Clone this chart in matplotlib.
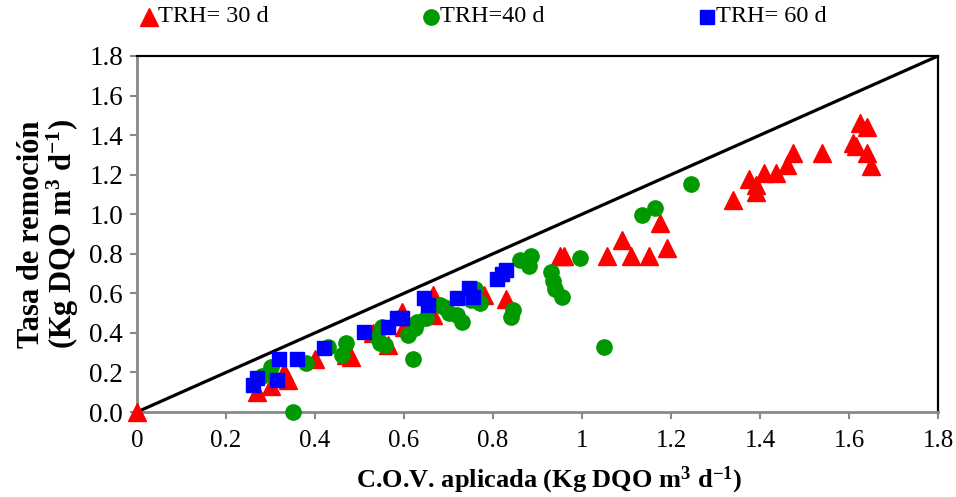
import matplotlib
matplotlib.use("Agg")
import matplotlib.pyplot as plt
from matplotlib.lines import Line2D

plt.rcParams['font.family'] = ['Liberation Serif', 'DejaVu Serif']
plt.rcParams['mathtext.fontset'] = 'custom'
plt.rcParams['mathtext.rm'] = 'Liberation Serif'
plt.rcParams['mathtext.bf'] = 'Liberation Serif:bold'
plt.rcParams['mathtext.it'] = 'Liberation Serif:italic'

# TRH = 30 d (red triangles)
x30 = [0.0, 0.27, 0.30, 0.33, 0.34, 0.40, 0.47, 0.48, 0.53, 0.565, 0.595, 0.60,
       0.665, 0.665, 0.78, 0.83, 0.95, 0.96, 1.056, 1.09, 1.11, 1.15, 1.175, 1.19,
       1.34, 1.375, 1.39, 1.39, 1.41, 1.435, 1.46, 1.475, 1.54, 1.61, 1.615,
       1.625, 1.64, 1.64, 1.65]
y30 = [0.0, 0.10, 0.13, 0.20, 0.16, 0.27, 0.29, 0.28, 0.40, 0.34, 0.505, 0.43,
       0.59, 0.49, 0.59, 0.57, 0.79, 0.79, 0.79, 0.87, 0.79, 0.79, 0.955, 0.83,
       1.07, 1.18, 1.15, 1.11, 1.21, 1.21, 1.25, 1.31, 1.31, 1.36, 1.345,
       1.46, 1.44, 1.31, 1.245]

# TRH = 40 d (green circles)
x40 = [0.35, 0.28, 0.30, 0.38, 0.43, 0.46, 0.47, 0.54, 0.545, 0.55, 0.557, 0.61,
       0.62, 0.625, 0.63, 0.65, 0.68, 0.69, 0.70, 0.72, 0.73, 0.75, 0.76, 0.77,
       0.84, 0.845, 0.86, 0.88, 0.885, 0.93, 0.935, 0.94, 0.955, 0.995, 1.05,
       1.135, 1.165, 1.245]
y40 = [0.0, 0.18, 0.23, 0.25, 0.33, 0.29, 0.35, 0.38, 0.35, 0.43, 0.34, 0.39,
       0.27, 0.425, 0.455, 0.475, 0.54, 0.53, 0.50, 0.49, 0.455, 0.565, 0.62, 0.55,
       0.48, 0.515, 0.77, 0.74, 0.79, 0.71, 0.66, 0.62, 0.58, 0.78, 0.33,
       0.995, 1.03, 1.155]

# TRH = 60 d (blue squares)
x60 = [0.26, 0.27, 0.315, 0.32, 0.36, 0.42, 0.51, 0.565, 0.585, 0.595, 0.645,
       0.655, 0.72, 0.745, 0.755, 0.81, 0.82, 0.83]
y60 = [0.135, 0.17, 0.16, 0.27, 0.27, 0.325, 0.405, 0.43, 0.475, 0.475, 0.575,
       0.54, 0.575, 0.625, 0.58, 0.67, 0.70, 0.72]

xticks = [0, 0.2, 0.4, 0.6, 0.8, 1, 1.2, 1.4, 1.6, 1.8]
xtick_labels = ['0', '0.2', '0.4', '0.6', '0.8', '1', '1.2', '1.4', '1.6', '1.8']
yticks = [0.0, 0.2, 0.4, 0.6, 0.8, 1.0, 1.2, 1.4, 1.6, 1.8]
ytick_labels = ['0.0', '0.2', '0.4', '0.6', '0.8', '1.0', '1.2', '1.4', '1.6', '1.8']
diag = [0, 1.8]

labels = ['TRH= 30 d', 'TRH=40 d', 'TRH= 60 d']
red = '#FF0000'
green = '#009900'
blue = '#0000FF'

W, H = 956, 497
fig = plt.figure(figsize=(W / 100, H / 100), dpi=100)
ax = fig.add_axes([137 / W, 1 - 412 / H, (938 - 137) / W, (412 - 56) / H])

ax.plot(diag, diag, color='black', lw=2.3, zorder=2)
ax.plot(x30, y30, linestyle='none', marker='^', ms=12.5, color=red, mec=red, zorder=3, clip_on=False)
ax.plot(x40, y40, linestyle='none', marker='o', ms=11, color=green, mec=green, zorder=4, clip_on=False)
ax.plot(x60, y60, linestyle='none', marker='s', ms=9.5, color=blue, mec=blue, zorder=5, clip_on=False)

ax.set_xlim(0, 1.8)
ax.set_ylim(0, 1.8)
ax.set_xticks(xticks)
ax.set_xticklabels(xtick_labels, fontsize=18)
ax.set_yticks(yticks)
ax.set_yticklabels(ytick_labels, fontsize=19.5)

for s in ['left', 'bottom']:
    ax.spines[s].set_color('#888888')
    ax.spines[s].set_linewidth(2)
for s in ['top', 'right']:
    ax.spines[s].set_color('black')
    ax.spines[s].set_linewidth(1.6)
ax.tick_params(axis='both', direction='out', length=5, width=1.5, color='#888888', pad=5)
ax.tick_params(axis='x', pad=8)

ax.set_xlabel(r'C.O.V. aplicada (Kg DQO m$^{\mathbf{3}}$ d$^{\mathbf{-1}}$)',
              fontsize=19, fontweight='bold')
ax.xaxis.set_label_coords(0.514, -0.147)
ax.set_ylabel('Tasa de remoción\n' + r'(Kg DQO m$^{\mathbf{3}}$ d$^{\mathbf{-1}}$)',
              fontsize=22, fontweight='bold', labelpad=6, linespacing=0.95)

# legend row at top
leg_marks = [('^', 12.5, red), ('o', 11, green), ('s', 9.5, blue)]
leg_x = [149, 431, 707]
leg_y = 17
for (m, ms, c), lx, lab in zip(leg_marks, leg_x, labels):
    fig.add_artist(Line2D([lx / W], [1 - leg_y / H], transform=fig.transFigure,
                          linestyle='none', marker=m, ms=ms, color=c, mec=c))
    fig.text((lx + 9) / W, 1 - leg_y / H, lab, fontsize=17.5, va='center', ha='left')

fig.savefig('out.png', dpi=100)
